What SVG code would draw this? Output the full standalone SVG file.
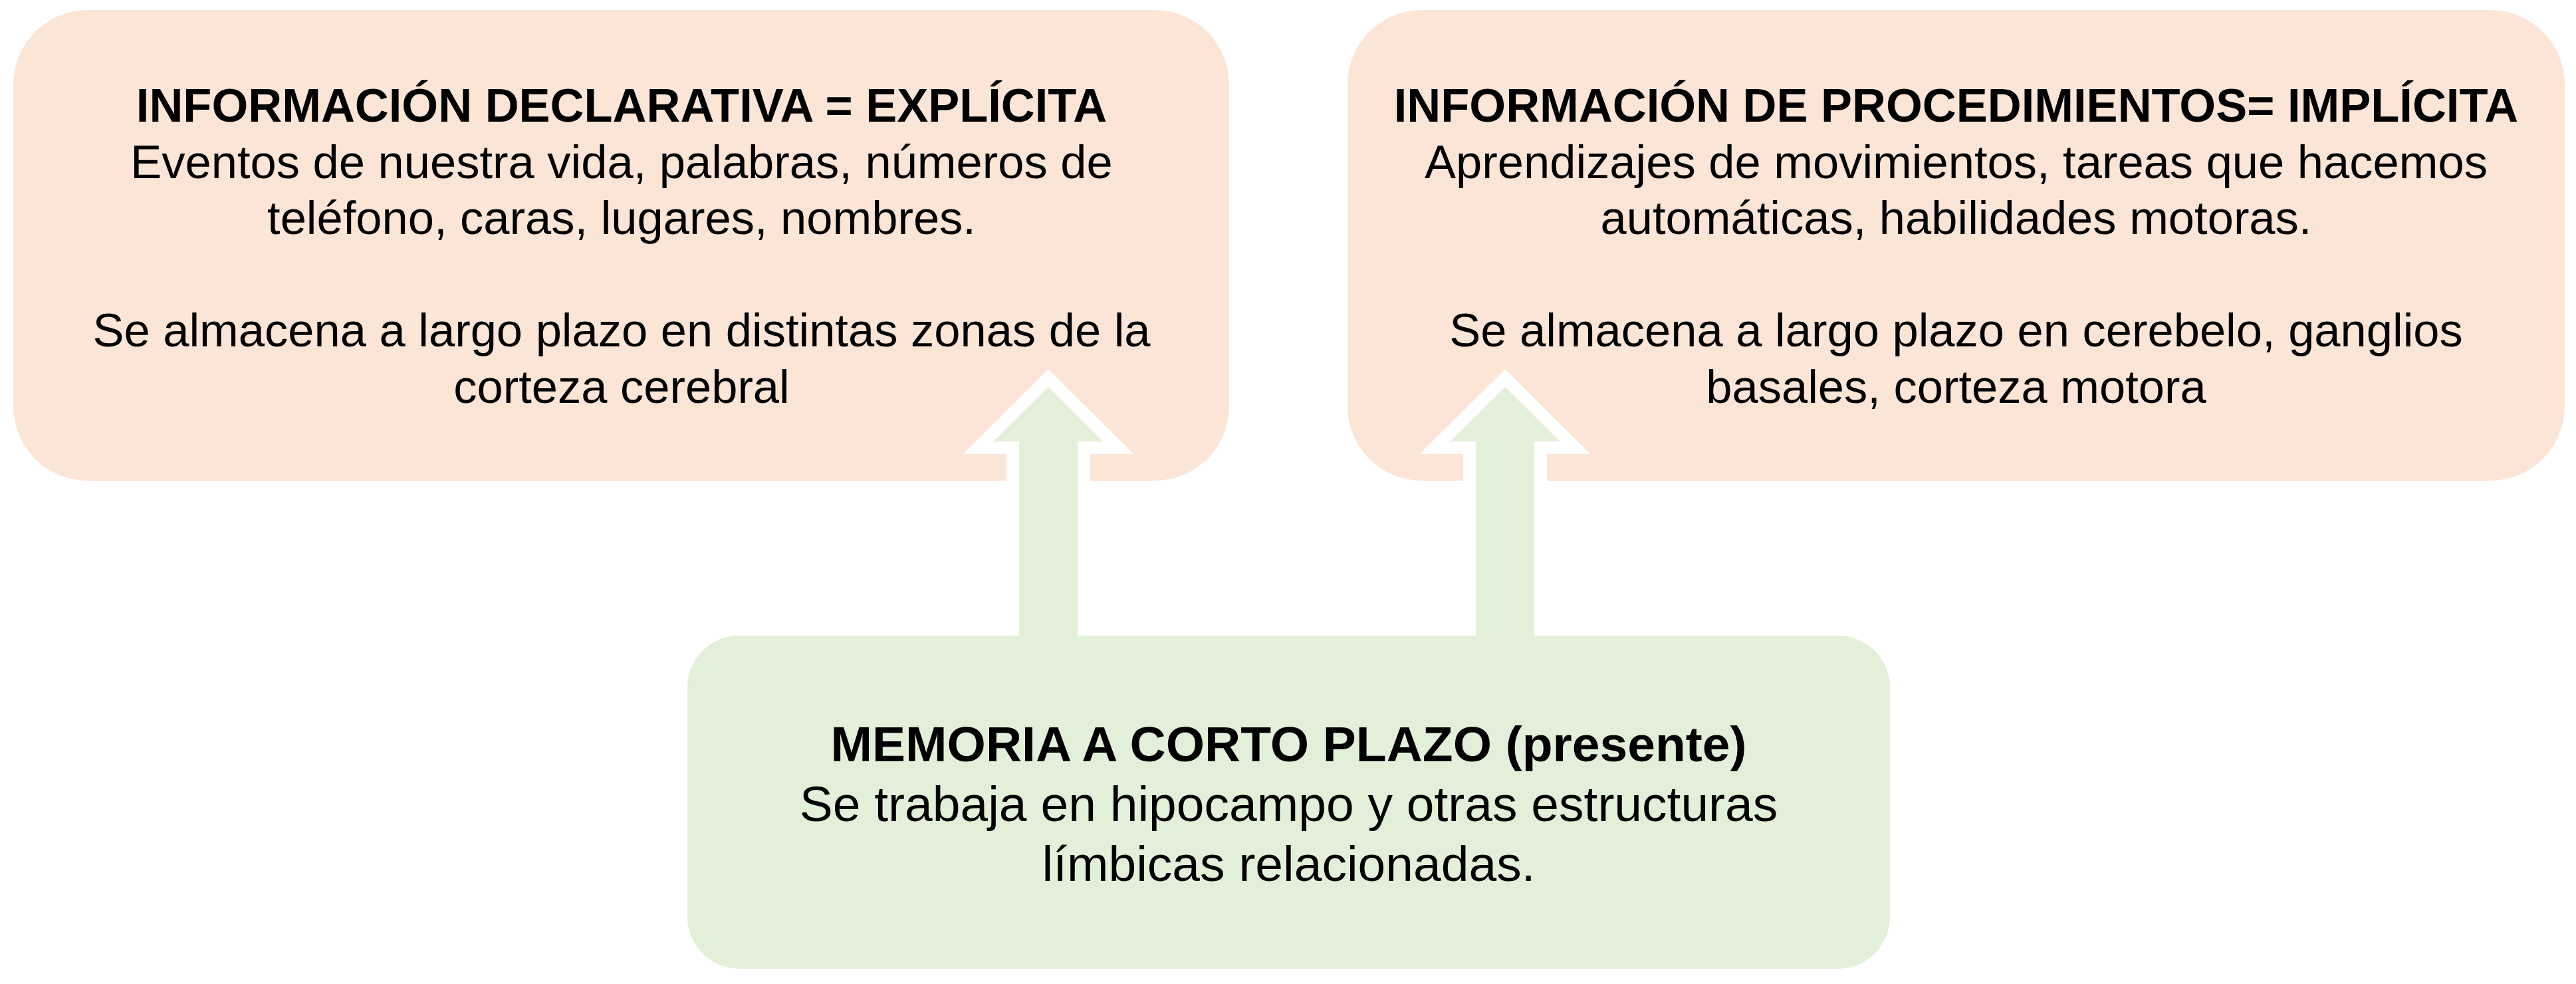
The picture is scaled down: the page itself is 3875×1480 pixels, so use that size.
<svg xmlns="http://www.w3.org/2000/svg" width="3875" height="1480" viewBox="0 0 3875 1480">
<style>
.peach{fill:#FBE5D6}
.green{fill:#E2F0D9}
.arrow{fill:#E2F0D9;stroke:#FFFFFF;stroke-width:38;stroke-linejoin:miter;stroke-miterlimit:6;paint-order:stroke}
.t{font-family:"Liberation Sans",Arial,sans-serif;fill:#000;text-anchor:middle}
.s{font-size:70.5px}
.g{font-size:75px}
.b{font-weight:bold}
</style>
<rect width="3875" height="1480" fill="#FFFFFF"/>
<g id="node-declarativa">
<rect class="peach" x="20" y="15" width="1829" height="708" rx="112" ry="112"/>
<text class="t s b" x="935" y="183">INFORMACIÓN DECLARATIVA = EXPLÍCITA</text>
<text class="t s" x="935" y="267.6">Eventos de nuestra vida, palabras, números de</text>
<text class="t s" x="935" y="352.2">teléfono, caras, lugares, nombres.</text>
<text class="t s" x="935" y="521.4">Se almacena a largo plazo en distintas zonas de la</text>
<text class="t s" x="935" y="606">corteza cerebral</text>
</g>
<g id="node-procedimientos">
<rect class="peach" x="2027" y="15" width="1831" height="708" rx="112" ry="112"/>
<text class="t s b" x="2942.5" y="183">INFORMACIÓN DE PROCEDIMIENTOS= IMPLÍCITA</text>
<text class="t s" x="2942.5" y="267.6">Aprendizajes de movimientos, tareas que hacemos</text>
<text class="t s" x="2942.5" y="352.2">automáticas, habilidades motoras.</text>
<text class="t s" x="2942.5" y="521.4">Se almacena a largo plazo en cerebelo, ganglios</text>
<text class="t s" x="2942.5" y="606">basales, corteza motora</text>
</g>
<g id="connectors">
<polygon class="arrow" points="1577,582 1659.5,664 1621,664 1621,960 1533,960 1533,664 1494.5,664"/>
<polygon class="arrow" points="2264,582 2346.5,664 2308,664 2308,960 2220,960 2220,664 2181.5,664"/>
</g>
<g id="node-corto-plazo">
<rect class="green" x="1034" y="956" width="1809" height="501" rx="78" ry="78"/>
<text class="t g b" x="1938.5" y="1145">MEMORIA A CORTO PLAZO (presente)</text>
<text class="t g" x="1938.5" y="1235">Se trabaja en hipocampo y otras estructuras</text>
<text class="t g" x="1938.5" y="1325">límbicas relacionadas.</text>
</g>
</svg>
